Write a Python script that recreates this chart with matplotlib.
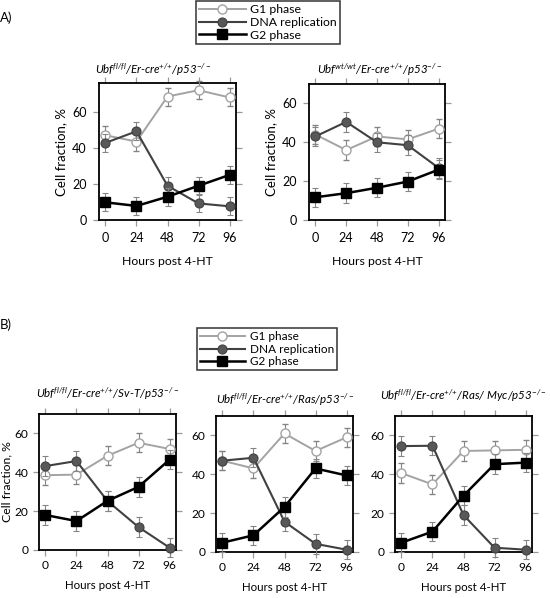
import matplotlib
matplotlib.use("Agg")
import matplotlib.pyplot as plt
from matplotlib.lines import Line2D

plt.rcParams['font.family'] = ['Lato', 'DejaVu Sans']
plt.rcParams['mathtext.fontset'] = 'custom'
plt.rcParams['mathtext.rm'] = 'Lato:italic'
plt.rcParams['mathtext.it'] = 'Lato:italic'
plt.rcParams['mathtext.default'] = 'it'

hours = [0, 24, 48, 72, 96]
series_names = ["G1 phase", "DNA replication", "G2 phase"]

titles = [
    r"Ubf$^{fl/fl}$/Er-cre$^{{+}/{+}}$/p53$^{-/-}$",
    r"Ubf$^{wt/wt}$/Er-cre$^{{+}/{+}}$/p53$^{-/-}$",
    r"Ubf$^{fl/fl}$/Er-cre$^{{+}/{+}}$/Sv-T/p53$^{-/-}$",
    r"Ubf$^{fl/fl}$/Er-cre$^{{+}/{+}}$/Ras/p53$^{-/-}$",
    r"Ubf$^{fl/fl}$/Er-cre$^{{+}/{+}}$/Ras/ Myc/p53$^{-/-}$",
]

g1 = [
    [47, 43.5, 68.5, 72, 68],
    [44, 36, 43, 41.5, 47],
    [38.5, 38.8, 48.5, 55.2, 52],
    [47, 43, 61, 52, 59],
    [40.6, 34.8, 52, 52.3, 52.6],
]
dna = [
    [42.8, 49.2, 19, 9.2, 7.6],
    [43, 50.5, 40, 38.5, 26.8],
    [43.2, 45.8, 25.2, 11.8, 1.2],
    [47, 48.5, 15.6, 4.2, 1.2],
    [54.5, 54.7, 19, 2.2, 1.2],
]
g2 = [
    [9.8, 7.8, 12.9, 19, 25],
    [11.7, 13.8, 16.6, 19.8, 25.9],
    [18, 14.9, 25.3, 32.5, 46.5],
    [4.8, 8.6, 23.2, 43, 39.4],
    [4.8, 10.5, 29, 45.2, 46],
]
err_g1 = [5, 5, 5, 5, 5]
err_dna = [5, 5, 5, 5, 5]
err_g2 = [5, 5, 5, 5, 5]

ylims = [76, 70, 70, 70, 70]
show_ylabel = [True, True, True, False, False]

W, H = 550, 598
# axes boxes in pixels: left, right, top, bottom
boxes = [
    (99, 236, 83, 220),
    (309, 445, 84, 220),
    (39, 176, 414, 550),
    (216, 353, 416, 552),
    (395, 532, 416, 552),
]
# title centre x and baseline y, in pixels
title_pos = [
    (153, 74),
    (380, 74),
    (108, 398),
    (285, 404),
    (463, 400),
]
row_A = [True, True, False, False, False]

fig = plt.figure(figsize=(W / 100, H / 100), dpi=100)

c_g1 = '#a3a3a3'
c_dna = '#404040'
c_dna_face = '#585858'
c_g2 = '#000000'
c_err = '#858585'
c_tick = '#9a9a9a'

for i, (l, r, t, b) in enumerate(boxes):
    ax = fig.add_axes([l / W, 1 - b / H, (r - l) / W, (b - t) / H])
    ax.set_xlim(-5, 101)
    ax.set_ylim(0, ylims[i])
    ekw = dict(ecolor=c_err, elinewidth=0.8, capsize=2.5, capthick=0.8)
    ax.errorbar(hours, g1[i], yerr=err_g1, color=c_g1, lw=1.4, marker='o', ms=6.5,
                mfc='white', mec=c_g1, mew=1.0, zorder=3, **ekw)
    ax.errorbar(hours, dna[i], yerr=err_dna, color=c_dna, lw=1.5, marker='o', ms=6.5,
                mfc=c_dna_face, mec=c_dna, mew=0.8, zorder=4, **ekw)
    ax.errorbar(hours, g2[i], yerr=err_g2, color=c_g2, lw=1.8, marker='s', ms=7,
                mfc=c_g2, mec=c_g2, zorder=5, **ekw)
    for art in ax.lines + ax.collections:
        art.set_clip_on(False)
    ax.set_xticks(hours)
    ax.set_yticks([0, 20, 40, 60])
    big = row_A[i]
    ax.tick_params(direction='out', length=4, width=0.9, color=c_tick,
                   top=True, right=True, labelsize=9 if big else 8.6,
                   pad=5 if big else 3.5)
    for s in ax.spines.values():
        s.set_linewidth(1.3)
        s.set_color('black')
    ax.set_xlabel("Hours post 4-HT", fontsize=8.8 if big else 8.3,
                  labelpad=8 if big else 6)
    if show_ylabel[i]:
        ax.set_ylabel("Cell fraction, %", fontsize=9.5 if big else 8.8,
                      labelpad=3.6 if big else 1.5)

    tx, ty = title_pos[i]
    fig.text(tx / W, 1 - ty / H, titles[i], fontsize=8.3, style='italic',
             ha='center', va='baseline')

handles = [
    Line2D([], [], color=c_g1, lw=1.4, marker='o', ms=6.5, mfc='white', mec=c_g1, mew=1.0),
    Line2D([], [], color=c_dna, lw=1.5, marker='o', ms=6.5, mfc=c_dna_face, mec=c_dna, mew=0.8),
    Line2D([], [], color=c_g2, lw=1.8, marker='s', ms=7, mfc=c_g2, mec=c_g2),
]
for (x0, y0, fs) in [(196, 1, 8.8), (197, 328, 8.5)]:
    leg = fig.legend(handles, series_names, loc='upper left',
                     bbox_to_anchor=(x0 / W, 1 - y0 / H), fontsize=fs,
                     handlelength=3.8, frameon=True, fancybox=False,
                     borderpad=0.25, labelspacing=0.15, handletextpad=0.4,
                     borderaxespad=0)
    leg.get_frame().set_edgecolor('black')
    leg.get_frame().set_linewidth(1.1)

fig.text(0 / W, 1 - 18 / H, "A)", fontsize=9.5, va='center', ha='left')
fig.text(0 / W, 1 - 325 / H, "B)", fontsize=9.5, va='center', ha='left')

fig.savefig("out.png", dpi=100)
